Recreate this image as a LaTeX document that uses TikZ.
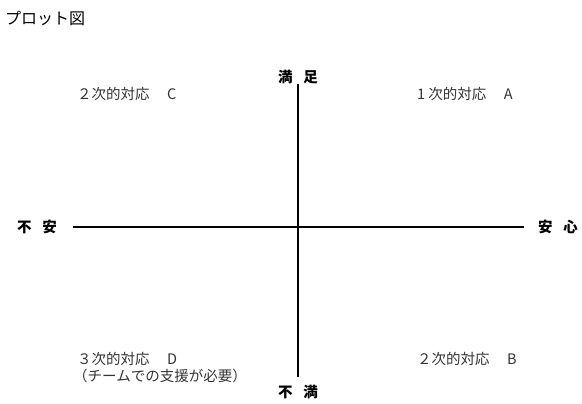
\documentclass[tikz,border=0pt]{standalone}
\usepackage{fontspec}
\newfontfamily\jp{Noto Sans CJK JP}
\definecolor{txt}{HTML}{333333}
\tikzset{
  lbl/.style={font=\jp\fontsize{14.5}{16}\selectfont, text=txt, inner sep=0pt, anchor=west},
  axislbl/.style={font=\jp\bfseries\fontsize{14.5}{16}\selectfont, text=black, inner sep=0pt},
  axis/.style={line width=1.8pt, draw=black},
}
\newcommand{\gapC}{　\hspace{3pt}}
\begin{document}
\begin{tikzpicture}[x=1pt,y=-1pt]
\useasboundingbox (0,0) rectangle (582,404);
\node[lbl, font=\jp\fontsize{16}{18}\selectfont, text=black] (title) at (5,18) {プロット図};
\coordinate (top) at (298,84);
\coordinate (bot) at (298,377);
\coordinate (lft) at (73,227);
\coordinate (rgt) at (524,227);
\draw[axis] (top) -- (bot);
\draw[axis] (lft) -- (rgt);
\node[axislbl] (manzoku) at (298,77) {満\hspace{11pt}足};
\node[axislbl] (fuman) at (298,392) {不\hspace{11pt}満};
\node[axislbl] (fuan) at (37,227) {不\hspace{11pt}安};
\node[axislbl] (anshin) at (558,227) {安\hspace{11pt}心};
\node[lbl] (c) at (77,94) {２次的対応\gapC{}C};
\node[lbl] (a) at (417,94) {1 次的対応\gapC{}A};
\node[lbl] (d) at (77,359) {３次的対応\gapC{}D};
\node[lbl] (d2) at (73,376) {（チームでの支援が必要）};
\node[lbl] (b) at (417,359) {２次的対応\gapC{}B};
\end{tikzpicture}
\end{document}
